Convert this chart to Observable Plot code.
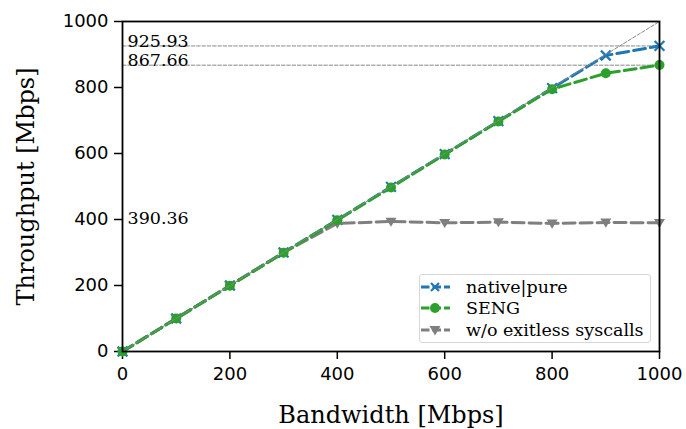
<!DOCTYPE html>
<html><head><meta charset="utf-8">
<script src="https://cdn.jsdelivr.net/npm/d3@7"></script>
<script src="https://cdn.jsdelivr.net/npm/@observablehq/plot@0.6"></script>
<style>
body{margin:0;background:#fff;}
#wrap{position:relative;width:686px;height:429px;}
#legend{position:absolute;left:419px;top:274px;width:232px;height:69px;border:1px solid #d6d6d6;border-radius:3px;background:rgba(255,255,255,0.85);font-size:17.5px;box-sizing:border-box;padding-top:1px;white-space:nowrap;overflow:hidden;}
#legend div{height:21.5px;display:flex;align-items:center;}
#legend svg{margin-left:1px;margin-right:16px;flex:none;}
</style></head>
<body><div id="wrap"><div id="chart"></div><div id="legend"></div></div>
<script>
const bandwidth = [0,100,200,300,400,500,600,700,800,900,1000];
const nativePure = [0,100,200,300,399,499,598,698,798,897,926];
const seng = [0,100,199,299,398,497,597,697,795,843,868];
const noExitless = [0,100,200,300,388,394,390,392,388,391,390];
const refValues = [925.93, 867.66];
const refLabels = [["925.93",925.93],["867.66",867.66],["390.36",390.36]];
const xTicks = [0,200,400,600,800,1000];
const yTicks = [0,200,400,600,800,1000];
const seriesNames = ["native|pure","SENG","w/o exitless syscalls"];
const colors = ["#1f77b4","#2ca02c","#7f7f7f"];
const serif = "'DejaVu Serif', 'Liberation Serif', serif";

const triDown = {draw(ctx, size){const r=Math.sqrt(size/Math.PI);ctx.moveTo(-r,-r*0.7);ctx.lineTo(r,-r*0.7);ctx.lineTo(0,r*0.95);ctx.closePath();}};
const cross = {draw(ctx,size){const r=Math.sqrt(size)/2;ctx.moveTo(-r,-r);ctx.lineTo(r,r);ctx.moveTo(-r,r);ctx.lineTo(r,-r);}};

const mk = (arr)=>bandwidth.map((b,i)=>({x:b,y:arr[i]}));
const dN = mk(nativePure), dS = mk(seng), dG = mk(noExitless);
const diag = [{x:0,y:0},{x:1000,y:1000}];
const hl = refValues.flatMap((v,k)=>[{x:0,y:v,k},{x:1000,y:v,k}]);
const labels = refLabels.map(([t,v])=>({t,x:0,y:v}));

const dash = "12,5";
const chart = Plot.plot({
  width:686, height:429,
  marginLeft:122, marginRight:27, marginTop:21, marginBottom:78,
  style:{fontFamily:"DejaVu Sans, sans-serif", fontSize:"18px", background:"#fff", color:"#000"},
  x:{domain:[0,1000], ticks:xTicks, tickSize:8, tickPadding:8, label:"Bandwidth [Mbps]", labelArrow:"none", labelAnchor:"center", labelOffset:71, tickFormat:d=>String(d)},
  y:{domain:[0,1000], ticks:yTicks, tickSize:8, tickPadding:6, label:"Throughput [Mbps]", labelArrow:"none", labelAnchor:"center", labelOffset:106, tickFormat:d=>String(d)},
  marks:[
    Plot.line(hl,{x:"x",y:"y",z:"k",stroke:"#888",strokeWidth:1,strokeDasharray:"3.5,1.8"}),
    Plot.line(dN,{x:"x",y:"y",stroke:colors[0],strokeWidth:3,strokeDasharray:dash}),
    Plot.dot(dN,{x:"x",y:"y",symbol:cross,r:5.5,stroke:colors[0],strokeWidth:2.2,fill:"none"}),
    Plot.line(dG,{x:"x",y:"y",stroke:colors[2],strokeWidth:3,strokeDasharray:dash}),
    Plot.dot(dG,{x:"x",y:"y",symbol:triDown,r:5.5,fill:colors[2],stroke:"none"}),
    Plot.line(dS,{x:"x",y:"y",stroke:colors[1],strokeWidth:3,strokeDasharray:dash}),
    Plot.dot(dS,{x:"x",y:"y",r:5,fill:colors[1],stroke:"none"}),
    Plot.line(diag,{x:"x",y:"y",stroke:"#888",strokeWidth:1,strokeDasharray:"3.5,1.8"}),
    Plot.text(labels,{x:"x",y:"y",text:"t",textAnchor:"start",lineAnchor:"bottom",dx:5,dy:1,fontSize:17.5,fill:"#000"}),
    Plot.frame({stroke:"#000",strokeWidth:1.8})
  ]
});
document.getElementById("chart").appendChild(chart);
d3.select(chart).selectAll("g[aria-label='x-axis tick'] path, g[aria-label='y-axis tick'] path").attr("stroke-width",1.5);
d3.select(chart).selectAll("g[aria-label='x-axis label'] text, g[aria-label='y-axis label'] text, g[aria-label='text'] text").style("font-family",serif);
d3.select(chart).selectAll("g[aria-label='x-axis label'] text, g[aria-label='y-axis label'] text").style("font-size","24px");

// legend
const leg = d3.select("#legend").style("font-family", serif);
const syms = [
  (g,c)=>g.append("path").attr("d","M10,5 L18,13 M10,13 L18,5").attr("stroke",c).attr("stroke-width",2.2),
  (g,c)=>g.append("circle").attr("cx",14).attr("cy",9).attr("r",5).attr("fill",c),
  (g,c)=>g.append("path").attr("d","M8.5,5 L19.5,5 L14,14.5 Z").attr("fill",c)
];
seriesNames.forEach((n,i)=>{
  const row = leg.append("div");
  const s = row.append("svg").attr("width",29).attr("height",18);
  s.append("line").attr("x1",0).attr("x2",29).attr("y1",9).attr("y2",9).attr("stroke",colors[i]).attr("stroke-width",3).attr("stroke-dasharray","8.5,3");
  syms[i](s,colors[i]);
  row.append("span").style("font-family", serif).text(n);
});
</script></body></html>
